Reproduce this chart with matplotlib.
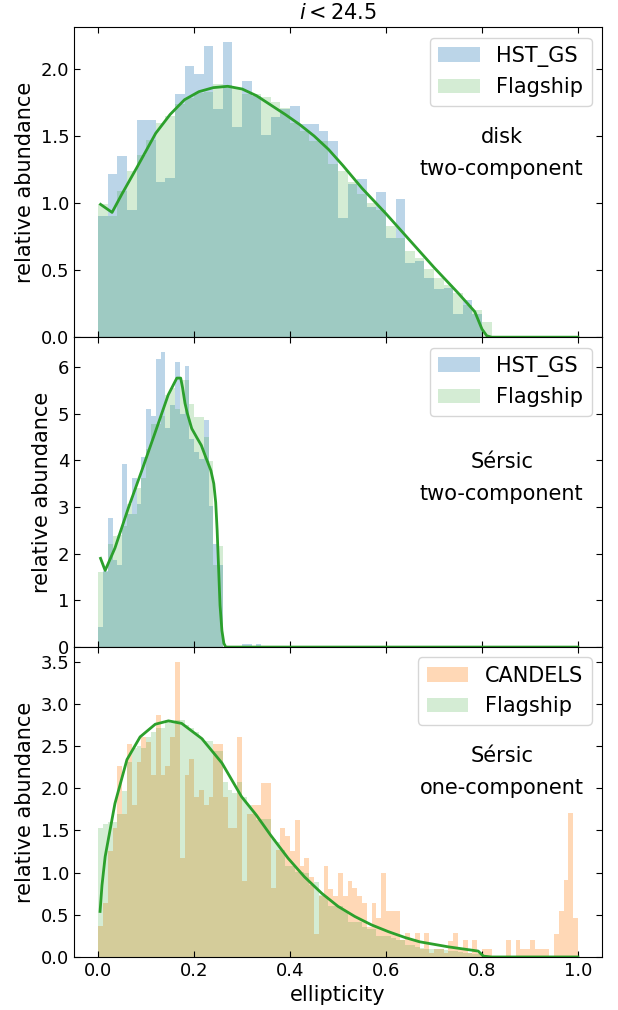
import numpy as np
import matplotlib
matplotlib.use("Agg")
import matplotlib.pyplot as plt

# ---------------- data ----------------
# panel 1: disk, two-component (bin width 0.02)
bins1_left = np.round(np.arange(0.0, 0.81, 0.02), 3)
hst1 = [0.90, 1.22, 1.35, 0.95, 1.62, 1.62, 1.16, 1.19, 1.81, 2.02, 1.96, 2.17, 1.70, 2.20,
        1.57, 1.91, 1.80, 1.51, 1.64, 1.70, 1.72, 1.59, 1.59, 1.54, 1.46, 0.89, 1.14, 1.18,
        0.97, 1.08, 0.74, 1.03, 0.55, 0.57, 0.44, 0.36, 0.37, 0.17, 0.28, 0.17, 0.0]
flag1 = [0.99, 0.90, 1.09, 1.24, 1.36, 1.47, 1.60, 1.65, 1.74, 1.78, 1.82, 1.83, 1.89, 1.88,
         1.86, 1.81, 1.81, 1.79, 1.75, 1.71, 1.60, 1.54, 1.46, 1.46, 1.29, 1.24, 1.16, 1.07,
         1.00, 0.95, 0.83, 0.74, 0.64, 0.59, 0.51, 0.44, 0.39, 0.33, 0.24, 0.20, 0.11]
kde1_x = [0.005, 0.029, 0.05, 0.08, 0.10, 0.12, 0.15, 0.18, 0.21, 0.24, 0.27, 0.30, 0.33,
          0.36, 0.39, 0.42, 0.45, 0.48, 0.51, 0.55, 0.60, 0.65, 0.70, 0.75, 0.785, 0.80,
          0.81, 0.82, 0.90, 1.00]
kde1_y = [0.99, 0.93, 1.07, 1.26, 1.39, 1.52, 1.66, 1.77, 1.83, 1.86, 1.87, 1.85, 1.80,
          1.73, 1.66, 1.585, 1.50, 1.40, 1.28, 1.11, 0.92, 0.72, 0.52, 0.33, 0.19, 0.06,
          0.01, 0.0, 0.0, 0.0]

# panel 2: Sersic, two-component (bin width 0.01)
bins2_left = np.round(np.arange(0.0, 0.335, 0.01), 3)
hst2 = [0.43, 1.62, 2.77, 1.87, 1.75, 3.92, 2.84, 3.63, 3.06, 4.08, 5.09, 4.94, 6.17, 6.32,
        4.70, 5.18, 6.11, 5.00, 6.02, 4.45, 4.17, 4.03, 4.86, 3.02, 2.21, 1.76, 0, 0, 0, 0,
        0.06, 0.06, 0, 0.06]
flag2 = [1.60, 1.60, 2.20, 2.37, 2.40, 2.60, 3.06, 2.84, 3.40, 3.63, 4.24, 4.78, 4.78, 4.95,
         5.39, 5.55, 5.10, 5.72, 5.72, 5.20, 4.92, 4.92, 4.50, 3.99, 1.76, 2.16, 0, 0, 0, 0,
         0, 0, 0, 0]
kde2_x = [0.005, 0.0146, 0.035, 0.063, 0.091, 0.119, 0.146, 0.164, 0.172, 0.176, 0.181,
          0.186, 0.195, 0.206, 0.215, 0.223, 0.235, 0.241, 0.245, 0.248, 0.251, 0.254,
          0.258, 0.262, 0.266, 0.30, 1.00]
kde2_y = [1.90, 1.64, 2.12, 2.98, 3.78, 4.60, 5.40, 5.76, 5.76, 5.55, 5.22, 5.00, 4.68,
          4.48, 4.32, 4.10, 3.78, 3.50, 3.10, 2.50, 1.70, 0.90, 0.35, 0.08, 0.0, 0.0, 0.0]

# panel 3: Sersic, one-component (bin width 0.01)
bins3_left = np.round(np.arange(0.0, 0.995, 0.01), 3)
cand3 = [0.37, 0.64, 1.26, 1.53, 2.26, 1.70, 2.52, 1.80, 2.31, 2.61,
         2.55, 2.16, 2.87, 2.16, 2.26, 2.61, 3.50, 1.17, 2.16, 2.35,
         1.90, 1.98, 1.80, 1.90, 2.52, 2.52, 1.90, 1.53, 1.53, 2.61,
         0.90, 1.70, 1.80, 1.80, 2.06, 2.06, 0.82, 1.27, 1.53, 1.44,
         1.26, 1.62, 1.08, 1.17, 0.95, 0.27, 0.72, 1.08, 0.81, 0.72,
         0.99, 0.72, 0.90, 0.82, 0.72, 0.64, 0.36, 0.64, 0.46, 0.99,
         0.54, 0.54, 0.54, 0.20, 0.28, 0.20, 0.28, 0.10, 0.28, 0.05,
         0.10, 0.10, 0.05, 0.19, 0.28, 0.10, 0.20, 0.05, 0.20, 0.05,
         0.10, 0.10, 0.0, 0.0, 0.0, 0.20, 0.0, 0.20, 0.10, 0.10,
         0.20, 0.10, 0.10, 0.10, 0.0, 0.27, 0.545, 0.91, 1.71, 0.46]
flag3 = [1.53, 1.58, 1.60, 1.60, 1.70, 1.97, 2.31, 2.48, 2.50, 2.48,
         2.61, 2.67, 2.71, 2.71, 2.81, 2.77, 2.81, 2.81, 2.75, 2.72,
         2.67, 2.60, 2.56, 2.56, 2.44, 2.44, 2.07, 1.98, 1.95, 2.08,
         1.90, 1.80, 1.70, 1.62, 1.64, 1.64, 1.40, 1.36, 1.27, 1.08,
         1.08, 1.01, 1.01, 1.00, 0.85, 0.89, 0.73, 0.72, 0.60, 0.60,
         0.60, 0.55, 0.42, 0.42, 0.42, 0.36, 0.33, 0.33, 0.25, 0.25,
         0.25, 0.23, 0.20, 0.20, 0.14, 0.14, 0.12, 0.11, 0.10, 0.10,
         0.09, 0.09, 0.08, 0.07, 0.07, 0.06, 0.05, 0.05, 0.04, 0.03,
         0, 0, 0, 0, 0, 0, 0, 0, 0, 0,
         0, 0, 0, 0, 0, 0, 0, 0, 0, 0]
kde3_x = [0.004, 0.008, 0.0146, 0.035, 0.06, 0.0875, 0.119, 0.1465, 0.174, 0.216, 0.258,
          0.299, 0.33, 0.36, 0.396, 0.43, 0.466, 0.50, 0.535, 0.57, 0.605, 0.64, 0.67,
          0.73, 0.792, 0.803, 0.82, 1.00]
kde3_y = [0.54, 0.85, 1.19, 1.82, 2.34, 2.61, 2.76, 2.80, 2.77, 2.59, 2.30,
          1.90, 1.68, 1.44, 1.17, 0.95, 0.755, 0.60, 0.48, 0.38, 0.30, 0.23, 0.18,
          0.12, 0.07, 0.01, 0.0, 0.0]

x_ticks = [0.0, 0.2, 0.4, 0.6, 0.8, 1.0]
y_ticks1 = [0.0, 0.5, 1.0, 1.5, 2.0]
y_ticks2 = [0, 1, 2, 3, 4, 5, 6]
y_ticks3 = [0.0, 0.5, 1.0, 1.5, 2.0, 2.5, 3.0, 3.5]

# ---------------- plot ----------------
plt.rcParams['font.family'] = ['DejaVu Sans']
fig = plt.figure(figsize=(6.18, 10.1), dpi=100)
axes = fig.subplots(3, 1, sharex=True, gridspec_kw=dict(hspace=0))
fig.subplots_adjust(left=0.12, right=0.974, top=0.973, bottom=0.0525)

panels = [
    (bins1_left, 0.02, hst1, 'HST_GS', 'C0', flag1, kde1_x, kde1_y, 'disk\ntwo-component', 0.595, y_ticks1, '{:.1f}'),
    (bins2_left, 0.01, hst2, 'HST_GS', 'C0', flag2, kde2_x, kde2_y, 'Sérsic\ntwo-component', 0.545, y_ticks2, '{:d}'),
    (bins3_left, 0.01, cand3, 'CANDELS', 'C1', flag3, kde3_x, kde3_y, 'Sérsic\none-component', 0.597, y_ticks3, '{:.1f}'),
]

for ax, (edges, w, obs, obs_label, obs_col, flag, kx, ky, txt, ty, yt, fmt) in zip(axes, panels):
    fl_edges = np.round(np.arange(len(flag)) * w, 3)
    ax.bar(edges, obs, width=w, align='edge', color=obs_col, alpha=0.3, linewidth=0, label=obs_label)
    ax.bar(fl_edges, flag, width=w, align='edge', color='C2', alpha=0.2, linewidth=0, label='Flagship')
    ax.plot(kx, ky, color='C2', lw=2)
    top = max(max(obs), max(flag)) * 1.05
    ax.set_ylim(0, top)
    ax.set_yticks(yt)
    ax.set_yticklabels([fmt.format(v) for v in yt])
    ax.set_ylabel('relative abundance', fontsize=15)
    ax.tick_params(direction='in', top=True, right=True, labelsize=13, length=4.5)
    ax.legend(loc='upper right', fontsize=15)
    ax.text(0.81, ty, txt, transform=ax.transAxes, ha='center', va='center',
            fontsize=15, linespacing=1.73)

axes[0].set_title(r'$i < 24.5$', fontsize=15)
axes[2].set_xticks(x_ticks)
axes[2].set_xticklabels(['{:.1f}'.format(v) for v in x_ticks])
axes[2].set_xlabel('ellipticity', fontsize=15)
axes[2].set_xlim(-0.05, 1.05)

fig.savefig('out.png', dpi=100)
